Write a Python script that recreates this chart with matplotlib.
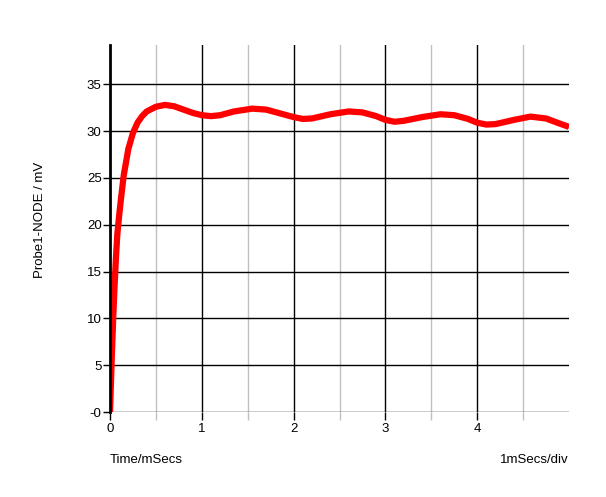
import matplotlib
matplotlib.use("Agg")
import matplotlib.pyplot as plt
import numpy as np

plt.rcParams['font.family'] = ['Liberation Sans', 'DejaVu Sans']

# probe trace (time in ms, value in mV)
t = [0, 0.01, 0.02, 0.035, 0.05, 0.065, 0.08, 0.1, 0.12, 0.15, 0.2, 0.25, 0.3, 0.35, 0.4,
     0.5, 0.6, 0.7, 0.8, 0.9, 1.0, 1.1, 1.2, 1.35, 1.55, 1.7, 1.85, 2.0, 2.1,
     2.2, 2.4, 2.6, 2.75, 2.9, 3.0, 3.1, 3.2, 3.4, 3.6, 3.75, 3.9, 4.0, 4.1,
     4.2, 4.4, 4.58, 4.75, 4.9, 5.0]
v = [0, 3, 6, 10, 13.5, 16.5, 19, 21, 22.8, 25.3, 28.1, 29.8, 30.9, 31.6, 32.1,
     32.6, 32.8, 32.65, 32.3, 31.95, 31.7, 31.6, 31.7, 32.1, 32.4, 32.3, 31.9, 31.5, 31.3,
     31.35, 31.8, 32.1, 32.0, 31.6, 31.2, 31.0, 31.1, 31.5, 31.8, 31.7, 31.3, 30.9, 30.7,
     30.75, 31.2, 31.55, 31.35, 30.8, 30.45]

yticks = [0, 5, 10, 15, 20, 25, 30, 35]
ylabels = ['-0', '5', '10', '15', '20', '25', '30', '35']
xticks = [0, 1, 2, 3, 4]
xminor = [0.5, 1.5, 2.5, 3.5, 4.5]

fig = plt.figure(figsize=(6.06, 4.97), dpi=100)
ax = fig.add_axes([0.1815, 0.171, 0.7575, 0.7385])

# grid
for x in xminor:
    ax.axvline(x, color='#c0c0c0', lw=1, zorder=1)
for x in xticks[1:]:
    ax.axvline(x, color='black', lw=1, zorder=1)
for y in yticks:
    ax.axhline(y, color='black', lw=1, zorder=1)

ax.plot(t, v, color='#ff0000', lw=4.5, solid_capstyle='butt', zorder=3)

ax.set_xlim(0, 5)
ax.set_ylim(0, 39.2)
ax.set_xticks(xticks)
ax.set_xticklabels([str(x) for x in xticks])
ax.set_xticks(xminor, minor=True)
ax.set_yticks(yticks)
ax.set_yticklabels(ylabels)
ax.tick_params(axis='x', which='major', length=6, width=1, color='black', labelsize=9.5, pad=2)
ax.tick_params(axis='x', which='minor', length=6, width=1, color='#c0c0c0')
ax.tick_params(axis='y', length=5, width=1, color='black', labelsize=9.5, pad=1)

for s in ['top', 'right', 'bottom']:
    ax.spines[s].set_visible(False)
ax.spines['left'].set_linewidth(2)
ax.spines['left'].set_zorder(4)

fig.text(0.066, 0.557, 'Probe1-NODE / mV', rotation=90, ha='center', va='center', fontsize=9.5)
fig.text(0.1815, 0.074, 'Time/mSecs', ha='left', va='center', fontsize=9.5)
fig.text(0.939, 0.074, '1mSecs/div', ha='right', va='center', fontsize=9.5)

fig.savefig('out.png', dpi=100)
